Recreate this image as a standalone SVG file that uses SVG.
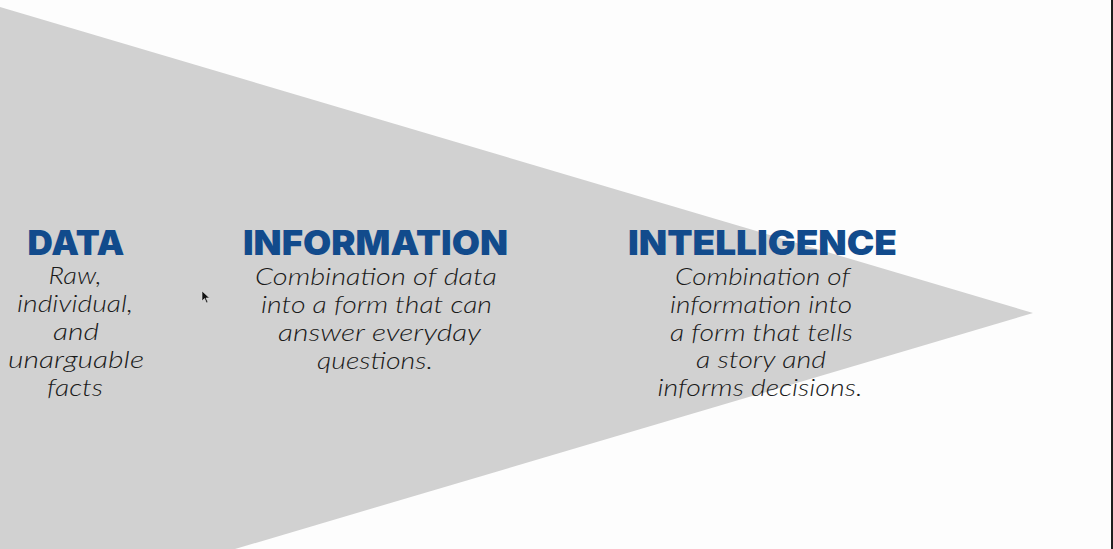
<svg xmlns="http://www.w3.org/2000/svg" width="1113" height="549" viewBox="0 0 1113 549">
  <style>
    .head { font-family: Inter, "Liberation Sans", sans-serif; font-weight: 900; font-size: 34px; fill: #124b8c; text-anchor: middle; }
    .desc { font-family: Lato, "Open Sans", "Liberation Sans", sans-serif; font-weight: 300; font-style: italic; font-size: 23px; fill: #1a1a1a; text-anchor: middle; }
  </style>
  <rect width="1113" height="549" fill="#fdfdfd"/>
  <!-- funnel wedge pointing right -->
  <polygon points="0,7 1033,313 235,549 0,549" fill="#d1d1d1"/>
  <!-- window edge -->
  <rect x="1111" y="0" width="2" height="549" fill="#1e1e1e"/>

  <g id="data">
    <text class="head" x="76" y="255" textLength="97" lengthAdjust="spacingAndGlyphs">DATA</text>
    <text class="desc" x="75" y="284" textLength="53" lengthAdjust="spacingAndGlyphs">Raw,</text>
    <text class="desc" x="75" y="312" textLength="116" lengthAdjust="spacingAndGlyphs">individual,</text>
    <text class="desc" x="76" y="340" textLength="46" lengthAdjust="spacingAndGlyphs">and</text>
    <text class="desc" x="76" y="368" textLength="136" lengthAdjust="spacingAndGlyphs">unarguable</text>
    <text class="desc" x="75" y="396" textLength="56" lengthAdjust="spacingAndGlyphs">facts</text>
  </g>

  <g id="information">
    <text class="head" x="375.5" y="255" textLength="265" lengthAdjust="spacingAndGlyphs">INFORMATION</text>
    <text class="desc" x="376" y="285" textLength="242" lengthAdjust="spacingAndGlyphs">Combination of data</text>
    <text class="desc" x="376.5" y="313" textLength="231" lengthAdjust="spacingAndGlyphs">into a form that can</text>
    <text class="desc" x="379.5" y="341" textLength="203" lengthAdjust="spacingAndGlyphs">answer everyday</text>
    <text class="desc" x="375" y="369" textLength="116" lengthAdjust="spacingAndGlyphs">questions.</text>
  </g>

  <g id="intelligence">
    <text class="head" x="762.5" y="255" textLength="269" lengthAdjust="spacingAndGlyphs">INTELLIGENCE</text>
    <text class="desc" x="762.5" y="285" textLength="175" lengthAdjust="spacingAndGlyphs">Combination of</text>
    <text class="desc" x="761" y="313" textLength="182" lengthAdjust="spacingAndGlyphs">information into</text>
    <text class="desc" x="761.5" y="341" textLength="183" lengthAdjust="spacingAndGlyphs">a form that tells</text>
    <text class="desc" x="761" y="368" textLength="130" lengthAdjust="spacingAndGlyphs">a story and</text>
    <text class="desc" x="760" y="396" textLength="205" lengthAdjust="spacingAndGlyphs">informs decisions.</text>
  </g>

  <!-- pointer -->
  <polygon points="202,291 202,301 204.5,298.5 206.5,303 208,302.3 206,298 209.5,298" fill="#111" stroke="#e8e8e8" stroke-width="0.6"/>
</svg>
